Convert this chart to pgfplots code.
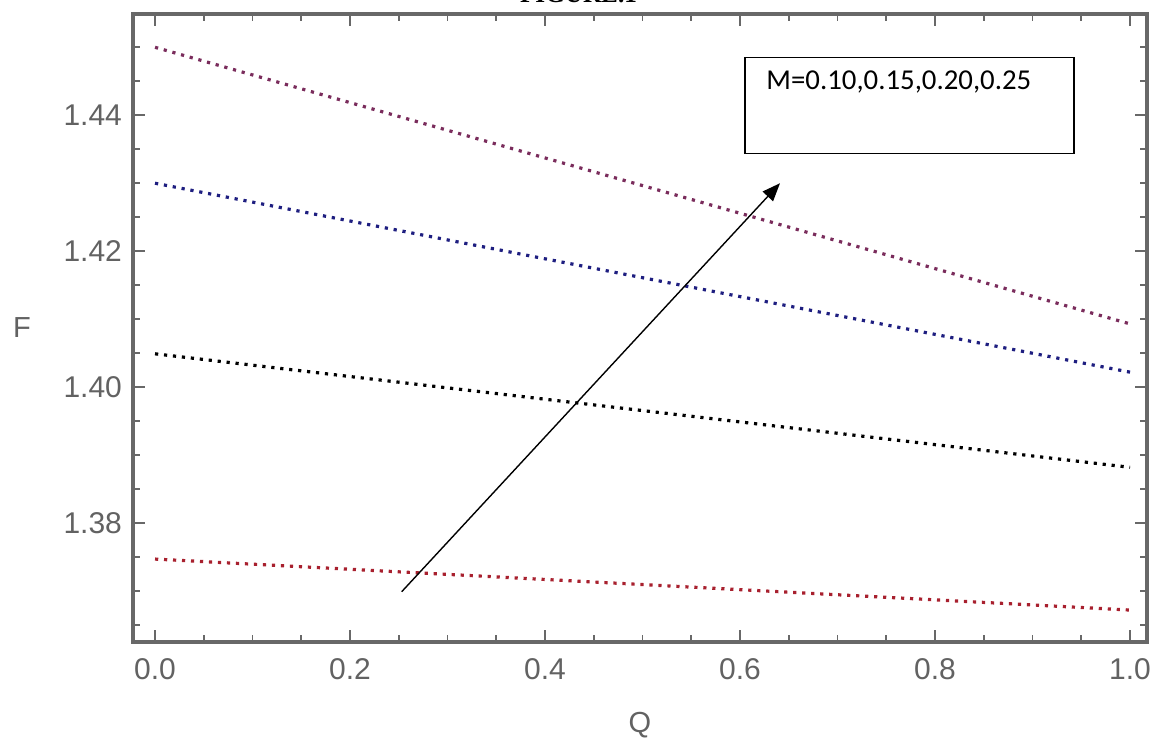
\documentclass[border=0pt]{standalone}
\usepackage{fontspec}
\setmainfont{Liberation Sans}
\newfontfamily\calfont{Carlito}
\newfontfamily\serifb{Liberation Serif}
\usepackage{pgfplots}
\pgfplotsset{compat=1.18}
\usetikzlibrary{arrows.meta}
\definecolor{framegray}{HTML}{686868}
\definecolor{labgray}{HTML}{626262}
\definecolor{cpurple}{HTML}{7A2C5C}
\definecolor{cblue}{HTML}{1E1E80}
\definecolor{cred}{HTML}{A8202E}
\begin{document}
\begin{tikzpicture}
\begin{axis}[
  scale only axis, width=507pt, height=314pt,
  at={(0,0)}, anchor=south west,
  xmin=-0.0226, xmax=1.0174, ymin=1.3625, ymax=1.4549,
  xtick={0,0.2,0.4,0.6,0.8,1.0},
  xticklabels={0.0,0.2,0.4,0.6,0.8,1.0},
  minor xtick={0.05,0.1,0.15,0.25,0.3,0.35,0.45,0.5,0.55,0.65,0.7,0.75,0.85,0.9,0.95},
  ytick={1.38,1.40,1.42,1.44},
  yticklabels={1.38,1.40,1.42,1.44},
  minor ytick={1.365,1.37,1.375,1.385,1.39,1.395,1.405,1.41,1.415,1.425,1.43,1.435,1.445,1.45},
  tick align=inside,
  major tick length=6pt, minor tick length=3.5pt,
  every major tick/.append style={framegray, line width=1.2pt},
  every minor tick/.append style={framegray, line width=0.8pt},
  axis line style={framegray, line width=2pt},
  tick label style={text=labgray, font=\fontsize{15}{17}\selectfont},
  xticklabel style={yshift=-4.5pt},
  yticklabel style={xshift=-2pt},
  xlabel={Q}, ylabel={F},
  label style={text=labgray, font=\fontsize{14.5}{16}\selectfont},
  xlabel style={at={(axis description cs:0.5,0)}, anchor=center, yshift=-41.5pt},
  ylabel style={at={(axis description cs:0,0.5)}, anchor=center, rotate=-90, xshift=-55.5pt},
]
\addplot[cpurple, line width=1.6pt, dash pattern=on 1.6pt off 2.9pt] coordinates {(0,1.4500) (0.5,1.42965) (1,1.4093)};
\addplot[cblue, line width=1.6pt, dash pattern=on 1.6pt off 2.9pt] coordinates {(0,1.4300) (0.5,1.4161) (1,1.4022)};
\addplot[black, line width=1.6pt, dash pattern=on 1.6pt off 2.9pt] coordinates {(0,1.4049) (0.5,1.39655) (1,1.3882)};
\addplot[cred, line width=1.6pt, dash pattern=on 1.6pt off 2.9pt] coordinates {(0,1.3747) (0.5,1.37095) (1,1.3672)};
\draw[black, line width=0.7pt, -{Triangle[length=9pt,width=7pt]}] (axis cs:0.253,1.3699) -- (axis cs:0.641,1.4300);
\draw[black, line width=0.7pt] (axis cs:0.605,1.43441) rectangle (axis cs:0.9426,1.4485);
\node[anchor=base west, inner sep=0pt, font=\calfont\fontsize{14.4}{16}\selectfont] at (axis cs:0.6267,1.44382) {M=0.10,0.15,0.20,0.25};
\end{axis}
\node[anchor=base, inner sep=0pt, font=\serifb\bfseries\fontsize{12.6}{14}\selectfont] at (222.75pt,319.5pt) {FIGURE.1};
\pgfresetboundingbox
\useasboundingbox (-66.5pt,-50pt) rectangle (508.5pt,321pt);
\end{tikzpicture}
\end{document}
